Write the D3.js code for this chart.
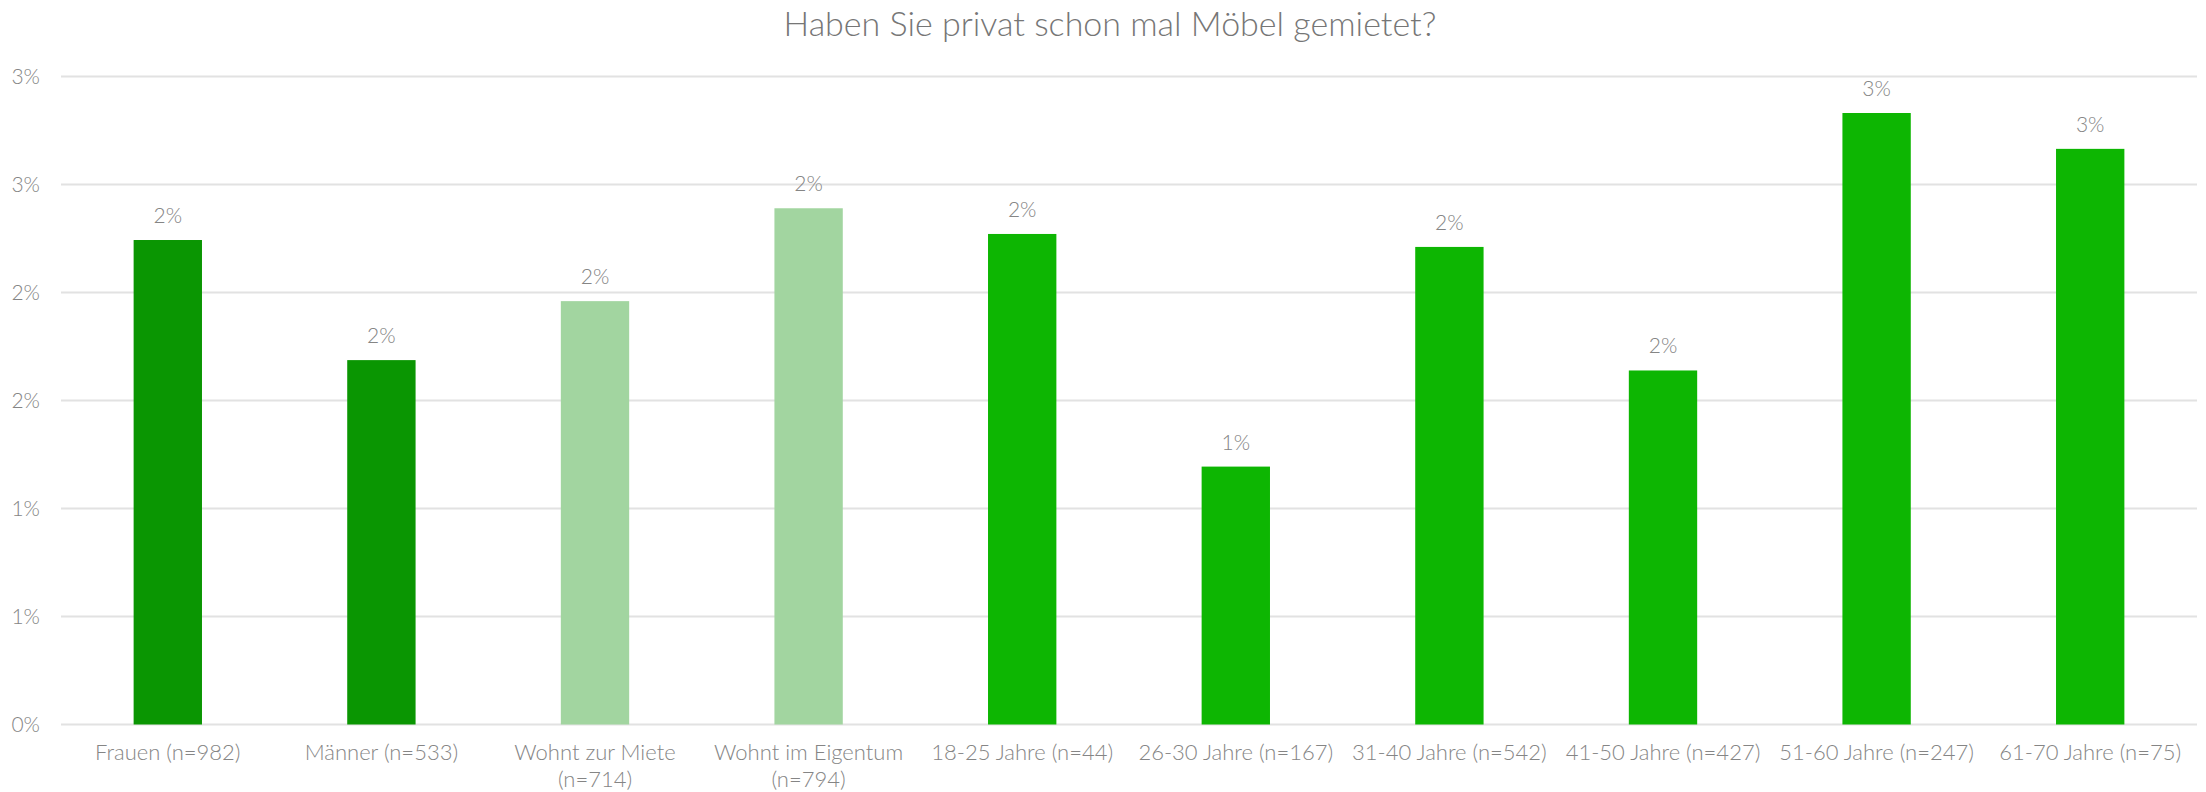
<!DOCTYPE html>
<html>
<head>
<meta charset="utf-8">
<script src="https://cdn.jsdelivr.net/npm/d3@7"></script>
<style>
  html, body { margin: 0; padding: 0; background: #fff; }
  svg text { font-family: "Lato", "Open Sans", sans-serif; font-weight: 300; fill: #858585; }
</style>
</head>
<body>
<svg id="chart"></svg>
<script>
// Chart data
const title = 'Haben Sie privat schon mal Möbel gemietet?';
const categories = [
    ['Frauen (n=982)'],
    ['Männer (n=533)'],
    ['Wohnt zur Miete', '(n=714)'],
    ['Wohnt im Eigentum', '(n=794)'],
    ['18-25 Jahre (n=44)'],
    ['26-30 Jahre (n=167)'],
    ['31-40 Jahre (n=542)'],
    ['41-50 Jahre (n=427)'],
    ['51-60 Jahre (n=247)'],
    ['61-70 Jahre (n=75)']
];
const values = [2.243, 1.687, 1.960, 2.390, 2.271, 1.194, 2.211, 1.639, 2.831, 2.665];
const groups = ['gender', 'gender', 'housing', 'housing', 'age', 'age', 'age', 'age', 'age', 'age'];
const yTicks = [0, 0.5, 1, 1.5, 2, 2.5, 3];

const groupColors = { gender: '#0a9602', housing: '#a2d5a0', age: '#0db602' };

const width = 2206, height = 792;
const margin = { top: 76.5, right: 9, bottom: 67.5, left: 61 };

const svg = d3.select('#chart')
    .attr('width', width)
    .attr('height', height);

// Title
svg.append('text')
    .attr('x', 1110)
    .attr('y', 36)
    .attr('text-anchor', 'middle')
    .style('font-size', '34px')
    .style('fill', '#767676')
    .text(title);

// Scales
const x = d3.scaleBand()
    .domain(categories.map((c, i) => i))
    .range([margin.left, width - margin.right])
    .paddingInner(0.68)
    .paddingOuter(0.34);

const y = d3.scaleLinear()
    .domain([0, 3])
    .range([height - margin.bottom, margin.top]);

// Gridlines
svg.append('g')
    .selectAll('line')
    .data(yTicks)
    .enter()
    .append('line')
    .attr('x1', margin.left)
    .attr('x2', width - margin.right)
    .attr('y1', d => y(d))
    .attr('y2', d => y(d))
    .attr('stroke', '#e2e2e2')
    .attr('stroke-width', 2);

// Y axis labels
const yAxis = d3.axisLeft(y)
    .tickValues(yTicks)
    .tickSize(0)
    .tickPadding(21)
    .tickFormat(d => d3.format('.0f')(d) + '%');

svg.append('g')
    .attr('transform', `translate(${margin.left},0)`)
    .call(yAxis)
    .call(g => g.select('.domain').remove())
    .selectAll('text')
    .style('font-size', '21px')
    .attr('fill', null);

// Bars
svg.append('g')
    .selectAll('rect')
    .data(values)
    .enter()
    .append('rect')
    .attr('x', (d, i) => x(i))
    .attr('width', x.bandwidth())
    .attr('y', d => y(d))
    .attr('height', d => y(0) - y(d))
    .attr('fill', (d, i) => groupColors[groups[i]]);

// Value labels
svg.append('g')
    .selectAll('text')
    .data(values)
    .enter()
    .append('text')
    .attr('x', (d, i) => x(i) + x.bandwidth() / 2)
    .attr('y', d => y(d) - 17)
    .attr('text-anchor', 'middle')
    .style('font-size', '21px')
    .text(d => d3.format('.0f')(d) + '%');

// Category labels
const catLabels = svg.append('g')
    .selectAll('text')
    .data(categories)
    .enter()
    .append('text')
    .attr('x', (d, i) => x(i) + x.bandwidth() / 2)
    .attr('y', 760)
    .attr('text-anchor', 'middle')
    .style('font-size', '22px');

catLabels.selectAll('tspan')
    .data(d => d)
    .enter()
    .append('tspan')
    .attr('x', function () { return d3.select(this.parentNode).attr('x'); })
    .attr('dy', (d, i) => i === 0 ? 0 : 27)
    .text(d => d);
</script>
</body>
</html>
